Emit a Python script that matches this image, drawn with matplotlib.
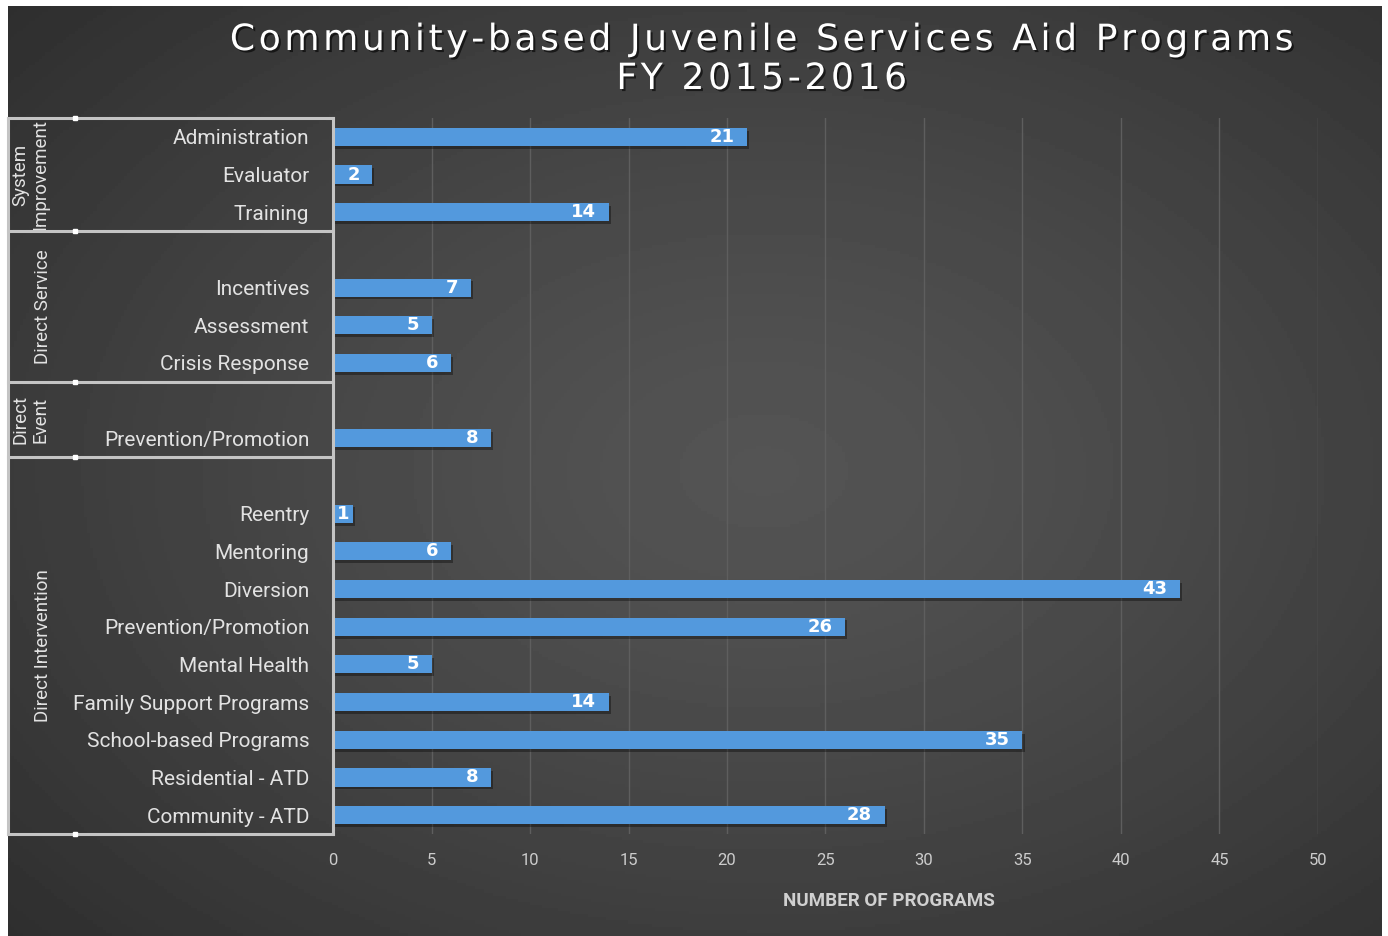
import numpy as np
import matplotlib
matplotlib.use("Agg")
import matplotlib.pyplot as plt
import matplotlib.transforms as mtransforms
import matplotlib.patheffects as pe

# data, top to bottom; None marks the blank slot Excel leaves at the head of a group
group_names = ["System\nImprovement", "Direct Service", "Direct\nEvent", "Direct Intervention"]
group_items = [
    ["Administration", "Evaluator", "Training"],
    ["", "Incentives", "Assessment", "Crisis Response"],
    ["", "Prevention/Promotion"],
    ["", "Reentry", "Mentoring", "Diversion", "Prevention/Promotion", "Mental Health",
     "Family Support Programs", "School-based Programs", "Residential - ATD", "Community - ATD"],
]
group_values = [
    [21, 2, 14],
    [None, 7, 5, 6],
    [None, 8],
    [None, 1, 6, 43, 26, 5, 14, 35, 8, 28],
]
x_ticks = [0, 5, 10, 15, 20, 25, 30, 35, 40, 45, 50]
title_lines = ["Community-based Juvenile Services Aid Programs", "FY 2015-2016"]

labels = [s for g in group_items for s in g]
values = [v for g in group_values for v in g]
n = len(labels)

W, H = 1388, 936
fig = plt.figure(figsize=(W / 100, H / 100), dpi=100)
fig.patch.set_facecolor("white")

# dark radial background
bg = fig.add_axes([8 / W, 0, (1382 - 8) / W, 1 - 6 / H])
yy, xx = np.mgrid[0:1:300j, 0:1:450j]
r = np.sqrt(((xx - 0.55) / 0.75) ** 2 + ((yy - 0.5) / 0.75) ** 2)
shade = 0.33 - 0.15 * np.clip(r, 0, 1) ** 1.3
bg.imshow(shade, cmap="gray", vmin=0, vmax=1, aspect="auto", extent=[0, 1, 0, 1])
bg.axis("off")

ax = fig.add_axes([333 / W, 1 - 834 / H, (1318 - 333) / W, (834 - 118) / H])
ax.set_facecolor("none")

ypos = [i for i, v in enumerate(values) if v is not None]
vals = [v for v in values if v is not None]
bars = ax.barh(ypos, vals, height=0.48, color="#5399dd", zorder=3)
for b in bars:
    b.set_path_effects([pe.SimplePatchShadow(offset=(1.5, -2), shadow_rgbFace="black", alpha=0.35), pe.Normal()])

xmax = 50
pt_per_unit = (1318 - 333) / xmax * 0.72
for y, v in zip(ypos, vals):
    pad = min(9, max(0, v * pt_per_unit - 12))  # short bars keep the label at their end
    ax.annotate(str(v), (v, y), xytext=(-pad, 0), textcoords="offset points",
                ha="right", va="center", color="white", fontsize=13,
                fontweight="bold", family="DejaVu Sans", zorder=4)

ax.set_xlim(0, xmax)
ax.set_ylim(n - 0.5, -0.5)
ax.set_xticks(x_ticks)
ax.set_xticklabels([str(t) for t in x_ticks], family="Roboto", fontsize=12, color="#cccccc")
ax.set_yticks(range(n))
ax.set_yticklabels(labels, family="Roboto", fontsize=15, color="#e2e2e2")
ax.tick_params(axis="x", length=0, pad=14)
ax.tick_params(axis="y", length=0, pad=17)
ax.grid(axis="x", color="#5e5e5e", linewidth=1, zorder=0)
for s in ax.spines.values():
    s.set_visible(False)

# group boxes on the left
trans = mtransforms.blended_transform_factory(fig.transFigure, ax.transData)
box_col = "#c4c4c4"
xl, xr = 8 / W, 333 / W
bounds = [-0.5]
for g in group_items:
    bounds.append(bounds[-1] + len(g))
for b in bounds:
    ax.plot([xl, xr], [b, b], transform=trans, color=box_col, lw=2.2, clip_on=False, zorder=5)
    ax.plot([75 / W], [b], transform=trans, marker="s", ms=2.5, color="white", clip_on=False, zorder=6)
for x in (xl, xr):
    ax.plot([x, x], [bounds[0], bounds[-1]], transform=trans, color=box_col, lw=2.2, clip_on=False, zorder=5)

for name, lo, hi in zip(group_names, bounds[:-1], bounds[1:]):
    xc = 30.5 / W if "\n" in name else 43 / W
    ax.text(xc, (lo + hi) / 2, name, transform=trans, rotation=90, ha="center", va="center",
            multialignment="center", linespacing=1.15, family="Roboto", fontsize=13.5, color="#e2e2e2")

# title, with hair spaces between letters for the wide tracking
shadow = [pe.SimplePatchShadow(offset=(1.5, -1.5), shadow_rgbFace="black", alpha=0.6), pe.Normal()]
for line, yp in zip(title_lines, (40, 79)):
    fig.text(762 / W, 1 - yp / H, "\u200a".join(line), ha="center", va="center",
             fontsize=26, color="white", family="DejaVu Sans", path_effects=shadow)

fig.text(889 / W, 1 - 901 / H, "NUMBER OF PROGRAMS", ha="center", va="center",
         fontsize=13.5, fontweight="bold", color="#d0d0d0", family="Roboto")

fig.savefig("out.png", dpi=100, facecolor=fig.get_facecolor())
